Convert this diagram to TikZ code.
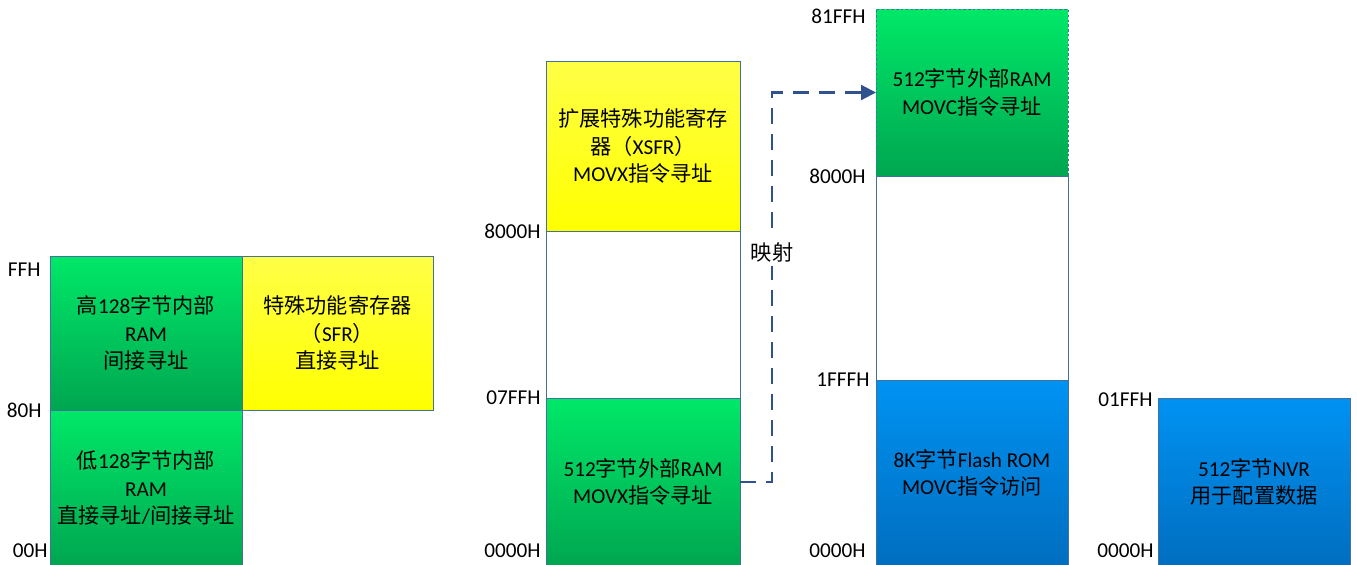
\documentclass[tikz,border=0pt]{standalone}
\usepackage{fontspec}
\setmainfont{Carlito}
\newfontfamily\cj{Noto Sans CJK SC}
\newcommand\zh[1]{{\cj #1}}
\usetikzlibrary{arrows.meta}
\definecolor{gtop}{RGB}{0,232,104}
\definecolor{gbot}{RGB}{0,166,80}
\definecolor{ytop}{RGB}{255,255,70}
\definecolor{ybot}{RGB}{255,255,0}
\definecolor{btop}{RGB}{0,146,242}
\definecolor{bbot}{RGB}{0,110,192}
\definecolor{framec}{RGB}{65,113,156}
\definecolor{connc}{RGB}{47,82,143}
\begin{document}
\begin{tikzpicture}[x=0.5pt,y=-0.5pt,
  box/.style={draw=framec,line width=0.5pt,inner sep=0pt,outer sep=0pt,align=center,
    font=\fontsize{10.6}{13.8}\selectfont},
  greenbox/.style={box,top color=gtop,bottom color=gbot},
  yellowbox/.style={box,top color=ytop,bottom color=ybot},
  bluebox/.style={box,top color=btop,bottom color=bbot},
  whitebox/.style={box,fill=white},
  addr/.style={font=\fontsize{10.6}{12}\selectfont,inner sep=0pt,anchor=east},
  conn/.style={draw=connc,line width=1.1pt,dash pattern=on 8pt off 5pt,-{Triangle[length=7.5pt,width=7.5pt]}}
]
\useasboundingbox[fill=white] (0,0) rectangle (1357,564);
\clip (0,0) rectangle (1357,564);

% left column
\node[greenbox,minimum width=96pt,minimum height=77pt] (hi) at (146,333)
  {\zh{高}128\zh{字节内部}\\RAM\\\zh{间接寻址}};
\node[greenbox,minimum width=96pt,minimum height=78pt] (lo) at (146,488)
  {\zh{低}128\zh{字节内部}\\RAM\\\zh{直接寻址}/\zh{间接寻址}};
\node[yellowbox,minimum width=95.5pt,minimum height=77pt] (sfr) at (337.5,333)
  {\zh{特殊功能寄存器}\\\zh{（}SFR\zh{）}\\\zh{直接寻址}};
\node[addr] (aFF) at (41,270) {FFH};
\node[addr] (a80) at (42,410) {80H};
\node[addr] (a00) at (48,551) {00H};

% middle column
\node[yellowbox,minimum width=97pt,minimum height=85pt] (xsfr) at (643,146)
  {\zh{扩展特殊功能寄存}\\\zh{器（}XSFR\zh{）}\\MOVX\zh{指令寻址}};
\node[whitebox,minimum width=97pt,minimum height=83.5pt] (mwhite) at (643,314.5) {};
\node[greenbox,minimum width=97pt,minimum height=84pt] (xram) at (643,482)
  {512\zh{字节外部}RAM\\MOVX\zh{指令寻址}};
\node[addr] (m8000) at (541,231) {8000H};
\node[addr] (m07FF) at (541,398) {07FFH};
\node[addr] (m0000) at (541,551) {0000H};

% right column
\node[greenbox,draw=none,minimum width=96pt,minimum height=83.5pt] (cram) at (972,92.5)
  {512\zh{字节外部}RAM\\MOVC\zh{指令寻址}};
\draw[framec,line width=0.5pt,dash pattern=on 1.2pt off 1.2pt] (cram.south west) rectangle (cram.north east);
\node[whitebox,minimum width=96pt,minimum height=102pt] (rwhite) at (972,278) {};
\node[bluebox,minimum width=96pt,minimum height=93pt] (flash) at (972,473)
  {8K\zh{字节}Flash ROM\\MOVC\zh{指令访问}};
\node[addr] (r81FF) at (866,16) {81FFH};
\node[addr] (r8000) at (866,176) {8000H};
\node[addr] (r1FFF) at (870,380) {1FFFH};
\node[addr] (r0000) at (866,551) {0000H};

% NVR
\node[bluebox,minimum width=96pt,minimum height=84pt] (nvr) at (1254,482)
  {512\zh{字节}NVR\\\zh{用于配置数据}};
\node[addr] (n01FF) at (1153,400) {01FFH};
\node[addr] (n0000) at (1154,551) {0000H};

% mapping connector
\coordinate (bend) at (772,92.5);
\draw[conn] (xram.east) -| (bend) -- (cram.west);
\node[fill=white,inner sep=2pt,font=\fontsize{10.6}{12}\selectfont] (map) at (772,252) {\zh{映射}};
\end{tikzpicture}
\end{document}
